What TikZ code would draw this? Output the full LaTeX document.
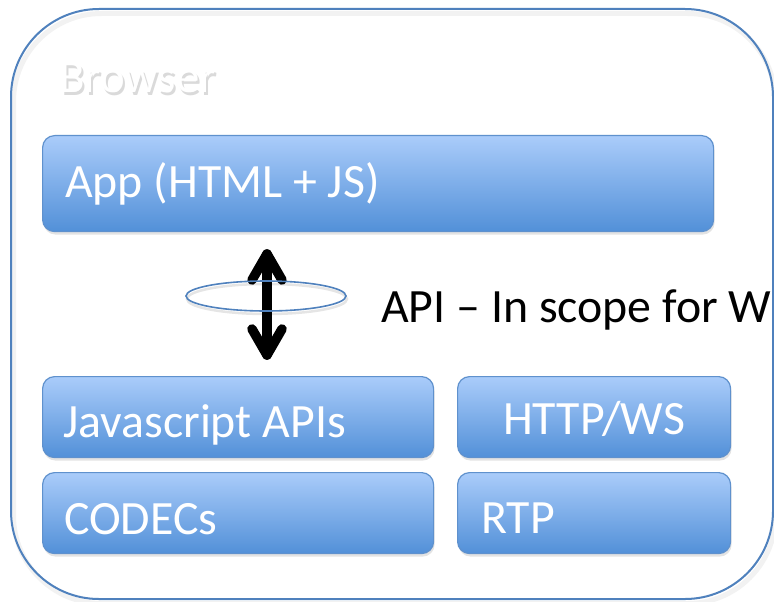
\documentclass[tikz,border=0pt]{standalone}
\usepackage{fontspec}
\setmainfont{Carlito}
\usetikzlibrary{shadows,shapes.geometric,calc}
\definecolor{boxtop}{RGB}{170,204,250}
\definecolor{boxbot}{RGB}{82,144,216}
\definecolor{boxline}{RGB}{95,145,205}
\definecolor{outlinec}{RGB}{79,129,189}
\definecolor{shadowgray}{RGB}{218,218,218}
\newcommand{\shadowtext}[1]{\rlap{\hspace{2bp}\raisebox{-3bp}{\color{shadowgray}#1}}#1}
\begin{document}
\begin{tikzpicture}[x=1bp,y=-1bp,
  blk/.style={draw=boxline, line width=1.2bp, rounded corners=12bp,
    top color=boxtop, bottom color=boxbot, anchor=north west, inner sep=0pt,
    drop shadow={opacity=0.22, shadow xshift=1bp, shadow yshift=-3bp}},
  lbl/.style={anchor=base west, text=white, inner sep=0pt, font=\fontsize{48}{52}\selectfont},
  frame/.style={anchor=north west, inner sep=0pt, rounded corners=88bp,
    minimum width=762bp, minimum height=590bp},
  arr/.style={line width=9.5bp, line cap=round, line join=round}]
\useasboundingbox (0,0) rectangle (774,602);
\clip (0,0) rectangle (774,602);
\fill[white] (0,0) rectangle (774,602);
% outer frame with soft shadow
\node[frame, draw=black, opacity=0.05, line width=5bp] (frameshadow) at (11,11) {};
\node[frame, draw=outlinec, line width=2bp] (browser) at (10,8) {};
% Browser title (white, with soft shadow)
\node[anchor=base west, inner sep=0pt, font=\fontsize{47}{51}\selectfont, text=white] (bt) at (59,93) {\shadowtext{Browser}};
% boxes
\node[blk, minimum width=671bp, minimum height=96bp] (app) at (42,135) {};
\node[blk, minimum width=391bp, minimum height=81bp] (js) at (42,376) {};
\node[blk, minimum width=391bp, minimum height=81bp] (codec) at (42,472) {};
\node[blk, minimum width=273bp, minimum height=81bp] (http) at (457,376) {};
\node[blk, minimum width=273bp, minimum height=81bp] (rtp) at (457,472) {};
% labels
\node[lbl] (applbl) at (65,198) {App (HTML + JS)};
\node[lbl] (jslbl) at (63,437) {Javascript APIs};
\node[lbl] (codeclbl) at (64,534) {CODECs};
\node[lbl, anchor=base] (httplbl) at (594,434) {HTTP/WS};
\node[lbl] (rtplbl) at (481,533) {RTP};
% API arrow
\coordinate (atop) at (267,254);
\coordinate (abot) at (267,355);
\begin{scope}[opacity=0.15, shift={(2,3)}]
  \draw[arr] (atop) -- (abot);
  \draw[arr] ($(atop)+(-15,26)$) -- (atop) -- ($(atop)+(15,26)$);
  \draw[arr] ($(abot)+(-15,-26)$) -- (abot) -- ($(abot)+(15,-26)$);
\end{scope}
\draw[arr] (atop) -- (abot);
\draw[arr] ($(atop)+(-15,26)$) -- (atop) -- ($(atop)+(15,26)$);
\draw[arr] ($(abot)+(-15,-26)$) -- (abot) -- ($(abot)+(15,-26)$);
\node[ellipse, draw=black, opacity=0.10, line width=2.5bp, minimum width=160bp, minimum height=30bp, inner sep=0pt] (ringshadow) at (267,299) {};
\node[ellipse, draw=outlinec, line width=1.6bp, minimum width=160bp, minimum height=30bp, inner sep=0pt] (ring) at (266,296) {};
\node[anchor=base west, inner sep=0pt, font=\fontsize{48}{52}\selectfont, text=black] (api) at (381,322) {API – In scope for W};
\end{tikzpicture}
\end{document}
